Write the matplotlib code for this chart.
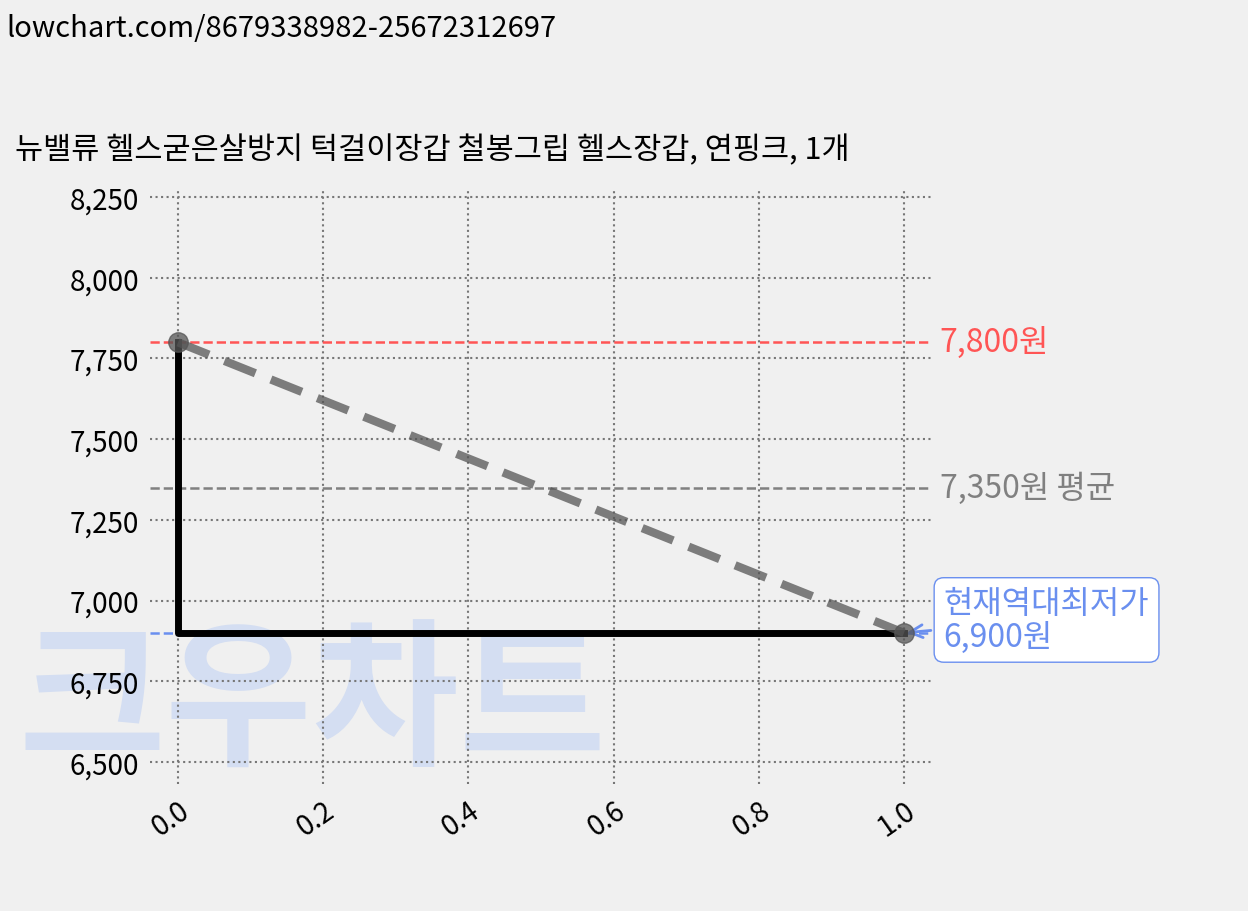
import matplotlib
matplotlib.use("Agg")
import matplotlib.pyplot as plt

plt.rcParams['font.family'] = ['Noto Sans CJK KR', 'DejaVu Sans']

title = "뉴밸류 헬스굳은살방지 턱걸이장갑 철봉그립 헬스장갑, 연핑크, 1개"
url = "lowchart.com/8679338982-25672312697"
x_vals = [0.0, 1.0]
prices = [7800, 6900]
max_price = 7800
avg_price = 7350
min_price = 6900
yticks = [6500, 6750, 7000, 7250, 7500, 7750, 8000, 8250]
xticks = [0.0, 0.2, 0.4, 0.6, 0.8, 1.0]

fig = plt.figure(figsize=(12.48, 9.12), dpi=100, facecolor='#f0f0f0')
ax = fig.add_axes([0.1202, 0.1393, 0.6266, 0.6524], facecolor='none')
for s in ax.spines.values():
    s.set_visible(False)

fig.text(0.005, 0.985, url, fontsize=21, va='top', ha='left')
fig.text(0.012, 0.835, title, fontsize=22, va='center', ha='left')

fig.text(0.25, 0.225, "크우차트", fontsize=115, fontweight='black', color='#d4def2',
         ha='center', va='center', zorder=-1)

ax.grid(True, linestyle=':', color='#777777', linewidth=1.5)
ax.set_axisbelow(True)

ax.axhline(max_price, color='#ff5555', linestyle='--', linewidth=1.8)
ax.axhline(avg_price, color='#808080', linestyle='--', linewidth=1.8)
ax.axhline(min_price, color='#6a8fef', linestyle='--', linewidth=1.8)

ax.plot(x_vals, prices, drawstyle='steps-pre', color='black', linewidth=5, zorder=3)
ax.plot(x_vals, prices, color='#555555', alpha=0.75, linestyle='--', linewidth=6, dashes=(4, 2),
        marker='o', markersize=14, zorder=4)

ax.set_xlim(-0.0386, 1.0386)
ax.set_ylim(6432, 8275)
ax.set_yticks(yticks)
ax.set_yticklabels([f"{v:,}" for v in yticks])
ax.set_xticks(xticks)
ax.set_xticklabels([f"{v:.1f}" for v in xticks], rotation=35, ha='right', rotation_mode='anchor')
ax.tick_params(length=0, labelsize=20, pad=8)
for lab in ax.get_xticklabels() + ax.get_yticklabels():
    lab.set_fontweight('light')

ax.text(1.01, max_price, f"{max_price:,}원", color='#ff5555', fontsize=23, va='center',
        transform=ax.get_yaxis_transform())
ax.text(1.01, avg_price, f"{avg_price:,}원 평균", color='#808080', fontsize=23, va='center',
        transform=ax.get_yaxis_transform())
ax.annotate(f"현재역대최저가\n{min_price:,}원", xy=(1.0, min_price), xytext=(1.015, min_price + 40),
            textcoords=ax.get_yaxis_transform(), color='#6a8fef', fontsize=23, va='center',
            linespacing=1.05,
            bbox=dict(boxstyle='round,pad=0.3', fc='white', ec='#6a8fef'),
            arrowprops=dict(arrowstyle='->', color='#6a8fef', lw=2))

fig.savefig('out.png', dpi=100, facecolor='#f0f0f0')
